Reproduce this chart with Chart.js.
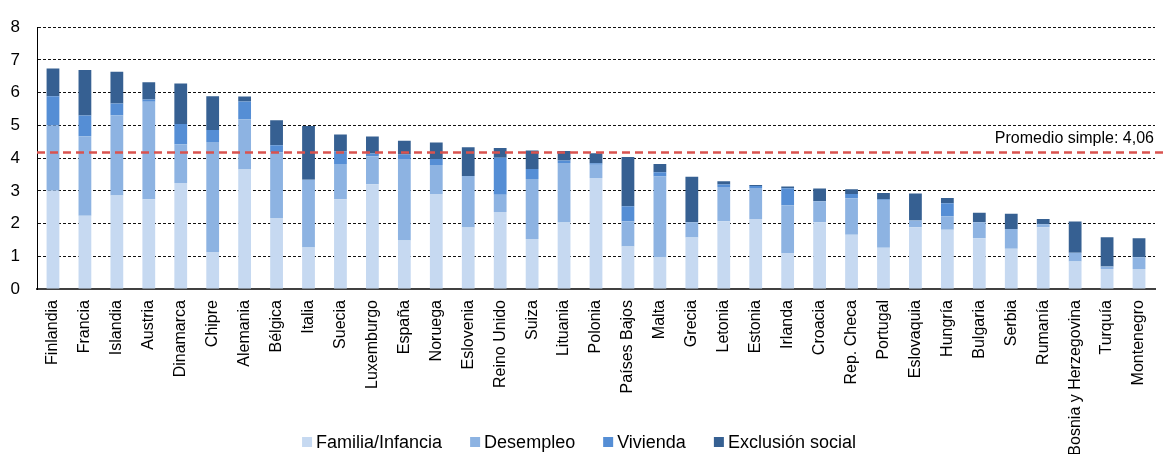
<!DOCTYPE html>
<html>
<head>
<meta charset="utf-8">
<script src="https://cdn.jsdelivr.net/npm/chart.js@4"></script>
<style>
  html, body { margin: 0; padding: 0; background: #fff; }
  #wrap { width: 1170px; height: 454px; position: relative; }
</style>
</head>
<body>
<div id="wrap"><canvas id="c" width="1170" height="454"></canvas></div>
<script>
// ---- Data ----
const paises = ['Finlandia','Francia','Islandia','Austria','Dinamarca','Chipre','Alemania','Bélgica','Italia','Suecia','Luxemburgo','España','Noruega','Eslovenia','Reino Unido','Suiza','Lituania','Polonia','Países Bajos','Malta','Grecia','Letonia','Estonia','Irlanda','Croacia','Rep. Checa','Portugal','Eslovaquia','Hungría','Bulgaria','Serbia','Rumanía','Bosnia y Herzegovina','Turquía','Montenegro'];

const familiaInfancia = [3.00,2.24,2.86,2.74,3.24,1.13,3.65,2.17,1.27,2.74,3.20,1.48,2.90,1.88,2.35,1.53,2.03,3.39,1.30,0.96,1.57,2.07,2.14,1.10,2.04,1.66,1.26,1.89,1.81,1.55,1.23,1.89,0.84,0.61,0.61];
const desempleo       = [2.00,2.43,2.45,2.98,1.18,3.36,1.54,2.01,2.07,1.08,0.86,2.49,0.89,1.57,0.53,1.83,1.82,0.41,0.77,2.48,0.47,1.05,0.95,1.46,0.64,1.11,1.46,0.20,0.41,0.49,0.60,0.09,0.27,0.08,0.36];
const vivienda        = [0.89,0.63,0.36,0.07,0.62,0.37,0.54,0.21,0.00,0.38,0.08,0.14,0.18,0.00,1.13,0.31,0.08,0.04,0.46,0.13,0.00,0.07,0.06,0.52,0.00,0.13,0.02,0.00,0.40,0.00,0.00,0.00,0.00,0.00,0.00];
const exclusionSocial = [0.85,1.39,0.97,0.53,1.24,1.03,0.15,0.77,1.64,0.52,0.52,0.42,0.51,0.88,0.30,0.56,0.29,0.31,1.50,0.25,1.39,0.10,0.03,0.05,0.39,0.15,0.19,0.83,0.16,0.29,0.47,0.16,0.95,0.89,0.58];

const serieNombres = ['Familia/Infancia','Desempleo','Vivienda','Exclusión social'];
const yTicks = [0,1,2,3,4,5,6,7,8];
const promedioLinea = 4.17;
const promedioTexto = 'Promedio simple: 4,06';

// ---- Styles ----
const colores = ['#C6D9F1','#8DB3E2','#558ED5','#366092'];
const FONT = '"Liberation Sans", Arial, sans-serif';

const datasets = [familiaInfancia, desempleo, vivienda, exclusionSocial].map((d, i) => ({
  label: serieNombres[i],
  data: d,
  backgroundColor: colores[i],
  borderWidth: 0,
  categoryPercentage: 1.0,
  barPercentage: 0.4,
  stack: 's'
}));

const promedioPlugin = {
  id: 'promedio',
  afterDatasetsDraw(chart) {
    const {ctx, chartArea} = chart;
    const y = chart.scales.y.getPixelForValue(promedioLinea);
    ctx.save();
    ctx.strokeStyle = '#D9534F';
    ctx.lineWidth = 2.5;
    ctx.setLineDash([8, 5]);
    ctx.beginPath();
    ctx.moveTo(chartArea.left, y);
    ctx.lineTo(chart.width - 3, y);
    ctx.stroke();
    ctx.setLineDash([]);
    ctx.fillStyle = '#000';
    ctx.font = '16px ' + FONT;
    ctx.textAlign = 'right';
    ctx.textBaseline = 'alphabetic';
    ctx.fillText(promedioTexto, chartArea.right - 1, y - 10);
    ctx.restore();
  }
};

const leyendaPlugin = {
  id: 'leyendaAbajo',
  afterDraw(chart) {
    const {ctx} = chart;
    const box = 10, gapText = 4, gapItem = 28, cy = 442, cx = 579;
    ctx.save();
    ctx.font = '18px ' + FONT;
    const items = chart.data.datasets.map(ds => ({
      text: ds.label, color: ds.backgroundColor, w: ctx.measureText(ds.label).width
    }));
    let total = items.reduce((s, it) => s + box + gapText + it.w, 0) + gapItem * (items.length - 1);
    let x = cx - total / 2;
    ctx.textBaseline = 'middle';
    ctx.textAlign = 'left';
    items.forEach(it => {
      ctx.fillStyle = it.color;
      ctx.fillRect(x, cy - box / 2, box, box);
      ctx.fillStyle = '#000';
      ctx.fillText(it.text, x + box + gapText, cy + 1);
      x += box + gapText + it.w + gapItem;
    });
    ctx.restore();
  }
};

new Chart(document.getElementById('c'), {
  type: 'bar',
  data: { labels: paises, datasets },
  options: {
    responsive: false,
    animation: false,
    devicePixelRatio: 1,
    layout: { padding: { top: 15, right: 15, left: 0, bottom: 0 } },
    plugins: {
      legend: { display: false },
      tooltip: { enabled: false }
    },
    scales: {
      x: {
        stacked: true,
        grid: { display: false, drawTicks: false },
        border: { display: true, color: '#404040', width: 2 },
        ticks: {
          autoSkip: false,
          minRotation: 90,
          maxRotation: 90,
          padding: 11,
          color: '#000',
          font: { family: FONT, size: 16 }
        },
        afterFit(scale) { scale.height = 165; }
      },
      y: {
        stacked: true,
        min: 0,
        max: 8,
        afterBuildTicks(scale) { scale.ticks = yTicks.map(v => ({ value: v })); },
        grid: {
          drawTicks: false,
          color: ctx => ctx.tick && ctx.tick.value === 0 ? 'rgba(0,0,0,0)' : '#111',
          lineWidth: 1
        },
        border: { display: true, color: '#000', width: 1, dash: [3, 2] },
        ticks: {
          padding: 17,
          color: '#000',
          font: { family: FONT, size: 17 }
        },
        afterFit(scale) { scale.width = 37; }
      }
    }
  },
  plugins: [promedioPlugin, leyendaPlugin]
});
</script>
</body>
</html>
